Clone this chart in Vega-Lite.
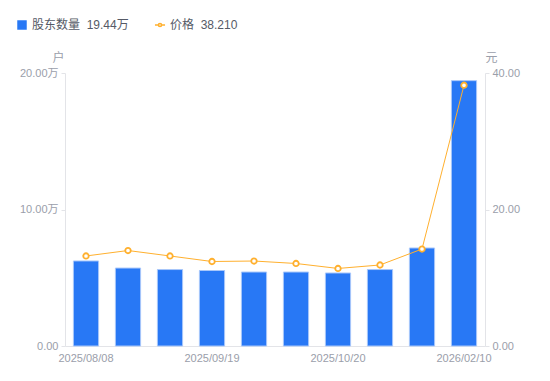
{
  "$schema": "https://vega.github.io/schema/vega-lite/v6.json",
  "width": 420,
  "height": 273,
  "autosize": {"type": "none"},
  "padding": {"left": 65, "top": 73, "right": 65, "bottom": 35},
  "background": "white",
  "config": {
    "font": "Liberation Sans, Noto Sans CJK SC, sans-serif",
    "view": {"stroke": null},
    "axis": {"labelColor": "#9a9eaa", "labelFontSize": 11, "domainColor": "#e3e4e8", "tickColor": "#e3e4e8", "grid": false, "titleColor": "#9a9eaa", "titleFontWeight": "normal", "titleFontSize": 12}
  },
  "data": {
    "values": [
      {"date": "2025/08/08", "holders": 6.23, "price": 13.19},
      {"date": "2025/08/20", "holders": 5.71, "price": 13.99},
      {"date": "2025/08/29", "holders": 5.6, "price": 13.19},
      {"date": "2025/09/19", "holders": 5.53, "price": 12.38},
      {"date": "2025/09/30", "holders": 5.42, "price": 12.45},
      {"date": "2025/10/10", "holders": 5.42, "price": 12.09},
      {"date": "2025/10/20", "holders": 5.35, "price": 11.36},
      {"date": "2025/10/31", "holders": 5.6, "price": 11.87},
      {"date": "2025/12/31", "holders": 7.18, "price": 14.21},
      {"date": "2026/02/10", "holders": 19.44, "price": 38.21}
    ]
  },
  "encoding": {
    "x": {
      "field": "date", "type": "ordinal", "sort": null,
      "scale": {"paddingInner": 0.4, "paddingOuter": 0.2},
      "axis": {"title": null, "labelAngle": 0, "ticks": false, "values": ["2025/08/08", "2025/09/19", "2025/10/20", "2026/02/10"], "labelOverlap": false, "labelBound": false, "labelPadding": 6, "labelFontSize": 11}
    }
  },
  "layer": [
    {
      "mark": {"type": "bar", "stroke": "#a8c7fa", "strokeWidth": 1},
      "encoding": {
        "y": {
          "field": "holders", "type": "quantitative",
          "scale": {"domain": [0, 20], "nice": false},
          "axis": {"title": "户", "titleAngle": 0, "titleX": -7, "titleY": -9, "titleAlign": "center", "values": [0, 10, 20], "labelExpr": "datum.value == 0 ? '0.00' : format(datum.value, '.2f') + '万'", "tickSize": 4, "labelPadding": 3}
        },
        "fill": {
          "datum": "股东数量",
          "scale": {"range": ["#2878f5"]},
          "legend": {"title": null, "orient": "none", "legendX": -49, "legendY": -54, "symbolType": "square", "symbolSize": 90, "symbolStrokeWidth": 0, "labelExpr": "datum.label + '\u00a0\u00a019.44万'", "labelColor": "#555a66", "labelFontSize": 12}
        }
      }
    },
    {
      "mark": {"type": "line", "strokeWidth": 1},
      "encoding": {
        "y": {
          "field": "price", "type": "quantitative",
          "scale": {"domain": [0, 40], "nice": false},
          "axis": {"orient": "right", "title": "元", "titleAngle": 0, "titleX": 6, "titleY": -9, "titleAlign": "center", "values": [0, 20, 40], "format": ".2f", "tickSize": 4, "labelPadding": 3}
        },
        "stroke": {
          "datum": "价格",
          "scale": {"range": ["#ffb02e"]},
          "legend": {"title": null, "orient": "none", "legendX": 89, "legendY": -54, "symbolType": "M-1.3,0H-0.45 M0.45,0H1.3 M0.4,0A0.4,0.4 0 1,1 -0.4,0A0.4,0.4 0 1,1 0.4,0", "symbolSize": 60, "symbolStrokeWidth": 1.6, "symbolFillColor": "white", "labelExpr": "datum.label + '\u00a0\u00a038.210'", "labelColor": "#555a66", "labelFontSize": 12}
        }
      }
    },
    {
      "mark": {"type": "point", "shape": "circle", "filled": true, "fill": "white", "stroke": "#ffb02e", "strokeWidth": 1.8, "size": 30, "opacity": 1},
      "encoding": {
        "y": {"field": "price", "type": "quantitative", "scale": {"domain": [0, 40], "nice": false}, "axis": null}
      }
    }
  ],
  "resolve": {"scale": {"y": "independent"}}
}
